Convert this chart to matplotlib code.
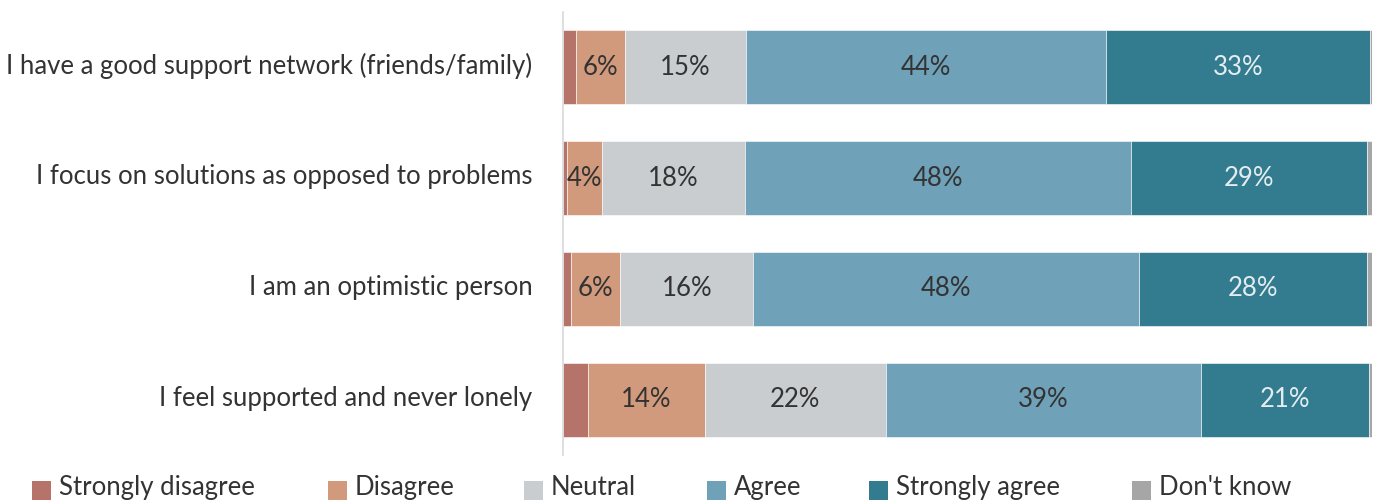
import matplotlib
matplotlib.use("Agg")
import matplotlib.pyplot as plt
from matplotlib.patches import Rectangle
from matplotlib.transforms import ScaledTranslation
import numpy as np

plt.rcParams['font.family'] = ['Lato', 'DejaVu Sans']

categories = [
    "I have a good support network (friends/family)",
    "I focus on solutions as opposed to problems",
    "I am an optimistic person",
    "I feel supported and never lonely",
]
series_names = ["Strongly disagree", "Disagree", "Neutral", "Agree", "Strongly agree", "Don't know"]
strongly_disagree = [1.6, 0.5, 1.0, 3.1]
disagree = [6.1, 4.3, 6.1, 14.4]
neutral = [14.9, 17.7, 16.4, 22.4]
agree = [44.5, 47.7, 47.7, 38.9]
strongly_agree = [32.6, 29.2, 28.2, 20.8]
dont_know = [0.3, 0.6, 0.6, 0.4]

series = [strongly_disagree, disagree, neutral, agree, strongly_agree, dont_know]
colors = ["#b5736a", "#d19a7c", "#c9cdd0", "#6fa1b8", "#337b8e", "#a6a6a6"]
TXT = "#333333"
text_colors = [TXT, TXT, TXT, TXT, "#e3edf0", TXT]

W, H = 1378, 503
fig = plt.figure(figsize=(W / 100, H / 100), dpi=100)
ax = fig.add_axes([563 / W, 1 - 455 / H, 809.3 / W, 443 / H])

y = np.arange(len(categories))
left = np.zeros(len(categories))
FS = 18.5
WT = "normal"
for vals, col, tcol in zip(series, colors, text_colors):
    vals = np.array(vals)
    ax.barh(y, vals, left=left, height=0.67, color=col, edgecolor="white", linewidth=0.4)
    for yi, (l, v) in enumerate(zip(left, vals)):
        if v >= 4:
            ax.text(l + v / 2, yi, f"{round(v)}%", ha="center", va="center",
                    color=tcol, fontsize=FS, fontweight=WT)
    left += vals

ax.set_xlim(0, 100)
ax.set_ylim(3.5, -0.5)
ax.set_yticks(y)
ax.set_yticklabels(categories, fontsize=FS, fontweight=WT, color=TXT)
ax.tick_params(axis="y", length=0, pad=22)
shift = ScaledTranslation(0, 4 / 100, fig.dpi_scale_trans)
for lab in ax.get_yticklabels():
    lab.set_transform(lab.get_transform() + shift)
ax.set_xticks([])
for s in ["top", "right", "bottom"]:
    ax.spines[s].set_visible(False)
ax.spines["left"].set_color("#d9d9d9")
ax.spines["left"].set_linewidth(1.2)

# legend, laid out in pixel positions along the bottom
legend_x = [32, 328, 524, 707, 869, 1132]
SQ = 19
for name, col, lx in zip(series_names, colors, legend_x):
    fig.patches.append(Rectangle((lx / W, 1 - 500 / H), SQ / W, SQ / H,
                                 transform=fig.transFigure, facecolor=col, edgecolor="none"))
    fig.text((lx + 27) / W, 1 - 495 / H, name, ha="left", va="baseline",
             fontsize=FS, fontweight=WT, color=TXT)

fig.savefig("out.png", dpi=100)
